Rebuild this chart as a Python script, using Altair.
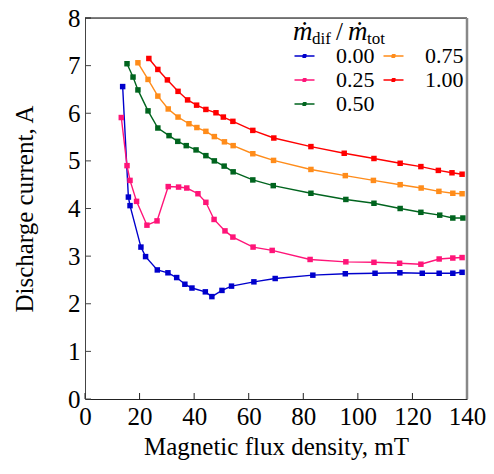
import altair as alt
import pandas as pd

# ---- data ----
B_000 = [13.8, 15.9, 16.5, 20.5, 22.2, 26.5, 30.4, 33.6, 36.6, 39.2, 44.1, 46.5, 50.2, 53.7, 61.9, 69.7, 83.5, 95.4, 106.3, 115.4, 123.6, 129.8, 134.8, 138.2]
I_000 = [6.56, 4.24, 4.06, 3.19, 2.99, 2.71, 2.65, 2.55, 2.41, 2.33, 2.25, 2.15, 2.28, 2.37, 2.46, 2.53, 2.60, 2.63, 2.64, 2.65, 2.64, 2.64, 2.64, 2.66]

B_025 = [13.3, 15.4, 16.5, 18.9, 22.7, 26.4, 30.5, 34.3, 37.3, 41.4, 44.3, 47.3, 51.3, 54.2, 61.6, 68.6, 82.5, 95.6, 105.9, 115.3, 123.1, 129.8, 134.8, 138.2]
I_025 = [5.91, 4.90, 4.59, 4.15, 3.65, 3.74, 4.46, 4.45, 4.43, 4.31, 4.13, 3.77, 3.53, 3.40, 3.19, 3.12, 2.93, 2.88, 2.87, 2.85, 2.83, 2.94, 2.96, 2.97]

B_050 = [15.4, 17.6, 19.4, 23.1, 26.7, 30.8, 34.0, 37.1, 40.7, 44.3, 47.4, 51.0, 54.3, 61.5, 69.0, 82.8, 95.6, 105.9, 115.5, 123.1, 130.0, 134.8, 138.5]
I_050 = [7.04, 6.76, 6.49, 6.05, 5.69, 5.53, 5.41, 5.32, 5.23, 5.11, 5.00, 4.89, 4.77, 4.60, 4.48, 4.32, 4.19, 4.11, 4.00, 3.92, 3.86, 3.80, 3.80]

B_075 = [19.4, 23.1, 26.7, 30.5, 34.1, 38.1, 41.0, 44.3, 47.4, 51.1, 54.3, 61.5, 69.1, 82.8, 95.4, 105.7, 115.5, 123.2, 129.7, 134.8, 138.2]
I_075 = [7.06, 6.71, 6.36, 6.09, 5.92, 5.78, 5.70, 5.62, 5.51, 5.40, 5.32, 5.15, 5.01, 4.82, 4.69, 4.59, 4.50, 4.43, 4.36, 4.32, 4.31]

B_100 = [23.4, 26.7, 30.2, 34.1, 37.6, 40.9, 44.3, 48.0, 50.7, 54.2, 61.5, 69.2, 82.8, 95.0, 105.9, 115.5, 123.1, 129.5, 134.5, 138.2]
I_100 = [7.15, 6.92, 6.70, 6.46, 6.28, 6.17, 6.08, 6.01, 5.92, 5.83, 5.64, 5.48, 5.30, 5.16, 5.05, 4.95, 4.88, 4.80, 4.75, 4.72]

series_names = ["0.00", "0.25", "0.50", "0.75", "1.00"]
series_colors = ["#0000CC", "#FF1478", "#00641E", "#FF8C1A", "#FF0000"]
x_ticks = [0, 20, 40, 60, 80, 100, 120, 140]
y_ticks = [0, 1, 2, 3, 4, 5, 6, 7, 8]

rows = []
for name, bs, cs in zip(series_names, [B_000, B_025, B_050, B_075, B_100],
                        [I_000, I_025, I_050, I_075, I_100]):
    for k, (b, c) in enumerate(zip(bs, cs)):
        rows.append({"series": name, "B": b, "I": c, "idx": k})
df = pd.DataFrame(rows)

W, H = 382, 381
FONT = "Liberation Serif"

xscale = alt.Scale(domain=[0, 140], nice=False, zero=False)
yscale = alt.Scale(domain=[0, 8], nice=False, zero=False)
cscale = alt.Scale(domain=series_names, range=series_colors)

sym_path = ("M-1,0L7,0"
            "M2.45,-0.5L3.55,-0.5L3.55,-0.25L2.45,-0.25L2.45,0L3.55,0"
            "L3.55,0.25L2.45,0.25L2.45,0.5L3.55,0.5")

base = alt.Chart(df)

lines = base.mark_line(strokeWidth=1.4).encode(
    x=alt.X("B:Q", scale=xscale,
            axis=alt.Axis(values=x_ticks, tickSize=0, labelFont=FONT, labelFontSize=25,
                          labelColor="black", labelPadding=5, labelFlush=False,
                          labelOverlap=False, title="Magnetic flux density, mT",
                          titleFont=FONT, titleFontSize=25, titleFontWeight="normal",
                          titleColor="black", titlePadding=5, domainColor="#222",
                          grid=False)),
    y=alt.Y("I:Q", scale=yscale,
            axis=alt.Axis(values=y_ticks, tickSize=0, labelFont=FONT, labelFontSize=25,
                          labelColor="black", labelPadding=5, labelFlush=False,
                          labelOverlap=False, title="Discharge current, A",
                          titleFont=FONT, titleFontSize=25, titleFontWeight="normal",
                          titleColor="black", titlePadding=30, domainColor="#444",
                          grid=False)),
    stroke=alt.Stroke("series:N", scale=cscale,
                      legend=alt.Legend(title=None, orient="none", legendX=201, legendY=27,
                                        columns=2, columnPadding=-6, rowPadding=2,
                                        symbolType=sym_path, symbolSize=25,
                                        symbolStrokeWidth=1.4, symbolFillColor="transparent",
                                        labelFont=FONT, labelFontSize=22, labelColor="black",
                                        labelOffset=28, padding=0)),
    order=alt.Order("idx:Q"),
    detail="series:N",
)

points = base.mark_point(shape="square", filled=True, size=30, opacity=1).encode(
    x=alt.X("B:Q", scale=xscale),
    y=alt.Y("I:Q", scale=yscale),
    fill=alt.Fill("series:N", scale=cscale, legend=None),
)

# inward tick marks
xt = alt.Chart(pd.DataFrame({"v": x_ticks})).mark_rule(color="#222", strokeWidth=1).encode(
    x=alt.X("v:Q", scale=xscale), y=alt.value(H), y2=alt.value(H - 6))
yt = alt.Chart(pd.DataFrame({"v": y_ticks})).mark_rule(color="#444", strokeWidth=1).encode(
    y=alt.Y("v:Q", scale=yscale), x=alt.value(0), x2=alt.value(6))

# frame: top and right
top = alt.Chart(pd.DataFrame({"v": [8]})).mark_rule(color="black", strokeWidth=1).encode(
    y=alt.Y("v:Q", scale=yscale), x=alt.value(0), x2=alt.value(W))
right = alt.Chart(pd.DataFrame({"v": [140]})).mark_rule(color="#888", strokeWidth=2.5).encode(
    x=alt.X("v:Q", scale=xscale), y=alt.value(0), y2=alt.value(H))

# legend title: m-dot_dif / m-dot_tot
def txt(s, px, py, size, style="normal"):
    return alt.Chart(pd.DataFrame({"t": [s]})).mark_text(
        font=FONT, fontSize=size, fontStyle=style, align="left", baseline="alphabetic",
        color="black").encode(text="t:N", x=alt.value(px), y=alt.value(py))

title_parts = [
    txt("ṁ", 208, 22, 27, "italic"),
    txt("dif", 227, 25.5, 17),
    txt("/", 251, 22, 25),
    txt("ṁ", 263, 22, 27, "italic"),
    txt("tot", 282, 25.5, 17),
]

chart = alt.layer(lines, points, xt, yt, top, right, *title_parts).properties(
    width=W, height=H,
    padding={"left": 77, "top": 10, "right": 19, "bottom": 67},
    autosize=alt.AutoSizeParams(type="none"),
).configure_view(stroke=None).configure(background="white", font=FONT).configure_axis(
    labelFont=FONT, titleFont=FONT).configure_legend(labelFont=FONT)

chart.save("out.html", embed_options={"renderer": "svg", "actions": False})
